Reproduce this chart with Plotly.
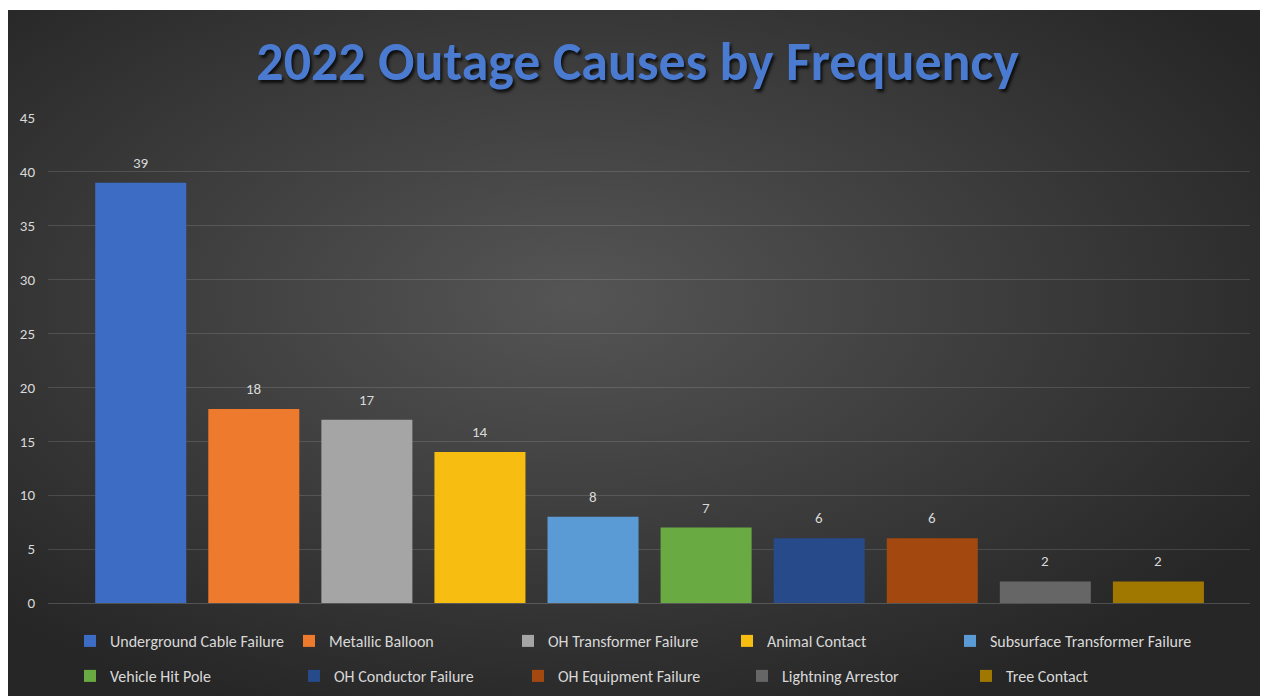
import base64
import plotly.graph_objects as go

causes = [
    "Underground Cable Failure", "Metallic Balloon", "OH Transformer Failure",
    "Animal Contact", "Subsurface Transformer Failure", "Vehicle Hit Pole",
    "OH Conductor Failure", "OH Equipment Failure", "Lightning Arrestor", "Tree Contact",
]
counts = [39, 18, 17, 14, 8, 7, 6, 6, 2, 2]
colors = [
    "#3d6cc4", "#ee7a2e", "#a5a5a5", "#f7bd10", "#5b9bd5",
    "#6aaa42", "#264a8a", "#a3480f", "#666666", "#a07800",
]
y_ticks = [0, 5, 10, 15, 20, 25, 30, 35, 40, 45]

FONT = "Carlito, Lato, sans-serif"
LABEL_COLOR = "#d9d9d9"

# page body has an 8px margin, so the figure is 8px smaller than the window
W, H = 1260, 688
L, R, T, B = 40, 18, 110, 93
pw, ph = W - L - R, H - T - B


def px_x(p):
    # page pixel -> paper x
    return (p - 8 - L) / pw


def px_y(p):
    # page pixel -> paper y
    return (H - B - (p - 8)) / ph


# dark radial background, like the excel chart style
svg = """<svg xmlns='http://www.w3.org/2000/svg' width='1260' height='686'>
<defs><radialGradient id='g' cx='45%' cy='42%' r='65%'>
<stop offset='0%' stop-color='#555555'/>
<stop offset='100%' stop-color='#262626'/>
</radialGradient></defs>
<rect width='1260' height='686' fill='url(#g)'/></svg>"""
bg_src = "data:image/svg+xml;base64," + base64.b64encode(svg.encode()).decode()

# legend rows: first row split so the long last name is not clipped
legend_of = ["legend"] * 4 + ["legend3"] + ["legend2"] * 5

fig = go.Figure()
for i, (name, val, col) in enumerate(zip(causes, counts, colors)):
    fig.add_trace(go.Bar(
        x=[i], y=[val], name=name, width=0.805,
        marker=dict(color=col, line=dict(width=0)),
        legend=legend_of[i],
        hoverinfo="name+y",
    ))
    fig.add_annotation(
        x=i, y=val, text=str(val), showarrow=False, yanchor="middle", yshift=20,
        font=dict(family=FONT, size=15, color=LABEL_COLOR),
    )

fig.add_layout_image(
    source=bg_src, xref="paper", yref="paper",
    x=px_x(8), y=px_y(10), sizex=W / pw, sizey=(H - 2) / ph,
    sizing="stretch", layer="below", xanchor="left", yanchor="top",
)

legend_style = dict(
    orientation="h", xanchor="left", yanchor="middle",
    font=dict(family=FONT, size=16, color=LABEL_COLOR),
    bgcolor="rgba(0,0,0,0)", itemclick=False,
)

fig.update_layout(
    width=W, height=H,
    margin=dict(l=L, r=R, t=T, b=B, autoexpand=False),
    paper_bgcolor="white",
    plot_bgcolor="rgba(0,0,0,0)",
    barmode="overlay",
    title=dict(
        text="<b>2022 Outage Causes by Frequency</b>",
        x=(637.5 - 8) / W, y=1 - (61 - 8) / H, xanchor="center", yanchor="middle",
        font=dict(family=FONT, size=54, color="#4a7bd1", shadow="2px 3px 3px rgba(0,0,0,0.75)"),
    ),
    xaxis=dict(
        range=[-0.82, 9.81], showticklabels=False, showgrid=False,
        zeroline=False, fixedrange=True,
    ),
    yaxis=dict(
        range=[0, 45], tickvals=y_ticks, showgrid=True,
        gridcolor="rgba(255,255,255,0.13)", gridwidth=1,
        zeroline=True, zerolinecolor="rgba(255,255,255,0.18)", zerolinewidth=1,
        tickfont=dict(family=FONT, size=15, color=LABEL_COLOR),
        ticklabelstandoff=12, fixedrange=True,
    ),
    legend=dict(legend_style, x=px_x(70), y=px_y(641), entrywidth=174, entrywidthmode="pixels"),
    legend3=dict(legend_style, x=px_x(950), y=px_y(641)),
    legend2=dict(legend_style, x=px_x(70), y=px_y(676), entrywidth=179, entrywidthmode="pixels"),
    showlegend=True,
)

fig.write_html("out.html")
